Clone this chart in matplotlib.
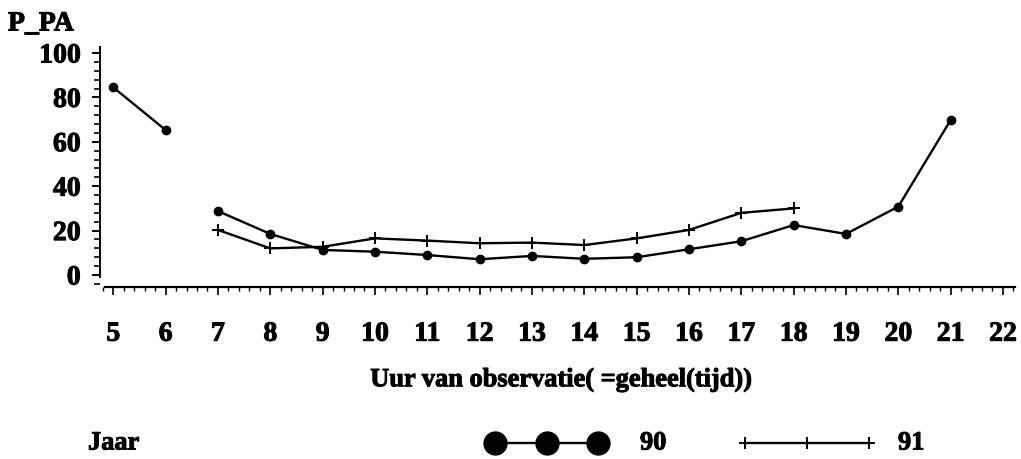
import numpy as np
import matplotlib
matplotlib.use("Agg")
import matplotlib.pyplot as plt
import matplotlib.patheffects as pe
from matplotlib.ticker import MultipleLocator, FixedLocator

# ---- data ----
hours_90 = [5, 6, 7, 8, 9, 10, 11, 12, 13, 14, 15, 16, 17, 18, 19, 20, 21]
p_pa_90 = [84.5, 65.3, 28.8, 18.5, 11.3, 10.5, 9.0, 7.1, 8.6, 7.3, 8.0,
           11.6, 15.2, 22.5, 18.5, 30.8, 69.8]
gap_after_90 = 6          # no connecting line between hour 6 and 7

hours_91 = [7, 8, 9, 10, 11, 12, 13, 14, 15, 16, 17, 18]
p_pa_91 = [20.3, 12.0, 12.7, 16.5, 15.5, 14.3, 14.6, 13.5, 16.5, 20.3, 28.0, 30.0]

x_ticks = list(range(5, 23))
y_ticks = [0, 20, 40, 60, 80, 100]
series_labels = ["90", "91"]
legend_title = "Jaar"
y_title = "P_PA"
x_title = "Uur van observatie( =geheel(tijd))"

plt.rcParams["font.family"] = ["Liberation Serif", "DejaVu Serif"]
plt.rcParams["font.weight"] = "bold"

heavy = [pe.withStroke(linewidth=0.7, foreground="black")]

W, H = 1021, 459
fig = plt.figure(figsize=(W / 100, H / 100), dpi=100)
fig.patch.set_facecolor("white")

# axes placement (pixels -> fractions)
ax_l, ax_r, ax_t, ax_b = 100, 1015, 47, 287
ax = fig.add_axes([ax_l / W, 1 - ax_b / H, (ax_r - ax_l) / W, (ax_b - ax_t) / H])
ax.set_xlim(4.746, 22.23)
ax.set_ylim(-5.4, 102.7)

# series 90 with gap
h90 = np.array(hours_90, dtype=float)
v90 = np.array(p_pa_90, dtype=float)
idx = int(np.where(h90 == gap_after_90)[0][0]) + 1
h90g = np.insert(h90, idx, np.nan)
v90g = np.insert(v90, idx, np.nan)
ax.plot(h90g, v90g, color="black", lw=1.7, marker="o", ms=6,
        mfc="black", mec="black", solid_joinstyle="round")
ax.plot(hours_91, p_pa_91, color="black", lw=1.7, marker="+", ms=8, mew=1.4)

# spines
for s in ["top", "right"]:
    ax.spines[s].set_visible(False)
ax.spines["left"].set_bounds(-1, 102.7)
ax.spines["bottom"].set_bounds(4.84, 22.23)
ax.spines["left"].set_linewidth(1.4)
ax.spines["bottom"].set_linewidth(1.6)

ax.xaxis.set_major_locator(FixedLocator(x_ticks))
ax.xaxis.set_minor_locator(MultipleLocator(0.2))
ax.yaxis.set_major_locator(FixedLocator(y_ticks))
ax.yaxis.set_minor_locator(MultipleLocator(4))
ax.set_xticklabels([str(t) for t in x_ticks])
ax.set_yticklabels([str(t) for t in y_ticks])

ax.tick_params(axis="x", which="major", direction="out", length=6, width=1.2,
               pad=19, labelsize=20)
ax.tick_params(axis="x", which="minor", direction="out", length=3, width=1.0)
ax.tick_params(axis="y", which="major", direction="out", length=6, width=1.4,
               pad=8, labelsize=20)
ax.tick_params(axis="y", which="minor", direction="out", length=4, width=1.2)
for lab in ax.get_xticklabels() + ax.get_yticklabels():
    lab.set_fontweight("bold")
    lab.set_path_effects(heavy)

# overlay in pixel coordinates for titles and legend
ov = fig.add_axes([0, 0, 1, 1])
ov.set_xlim(0, W)
ov.set_ylim(H, 0)
ov.axis("off")
ov.patch.set_alpha(0)

ov.text(8, 24, y_title, fontsize=20, fontweight="bold", ha="left", va="center",
        path_effects=heavy)
ov.text(561, 380, x_title, fontsize=19, fontweight="bold", ha="center", va="center",
        path_effects=heavy)
ov.text(88, 443, legend_title, fontsize=19, fontweight="bold", ha="left", va="center",
        path_effects=heavy)

leg_y = 443
ov.plot([495, 547, 598], [leg_y] * 3, color="black", lw=1.7, marker="o",
        ms=16.5, mfc="black", mec="black")
ov.text(640, leg_y, series_labels[0], fontsize=19, fontweight="bold",
        ha="left", va="center", path_effects=heavy)
ov.plot([745, 807, 869], [leg_y] * 3, color="black", lw=1.7, marker="+",
        ms=8, mew=1.4)
ov.text(898, leg_y, series_labels[1], fontsize=19, fontweight="bold",
        ha="left", va="center", path_effects=heavy)

fig.savefig("out.png", dpi=100, facecolor="white")
